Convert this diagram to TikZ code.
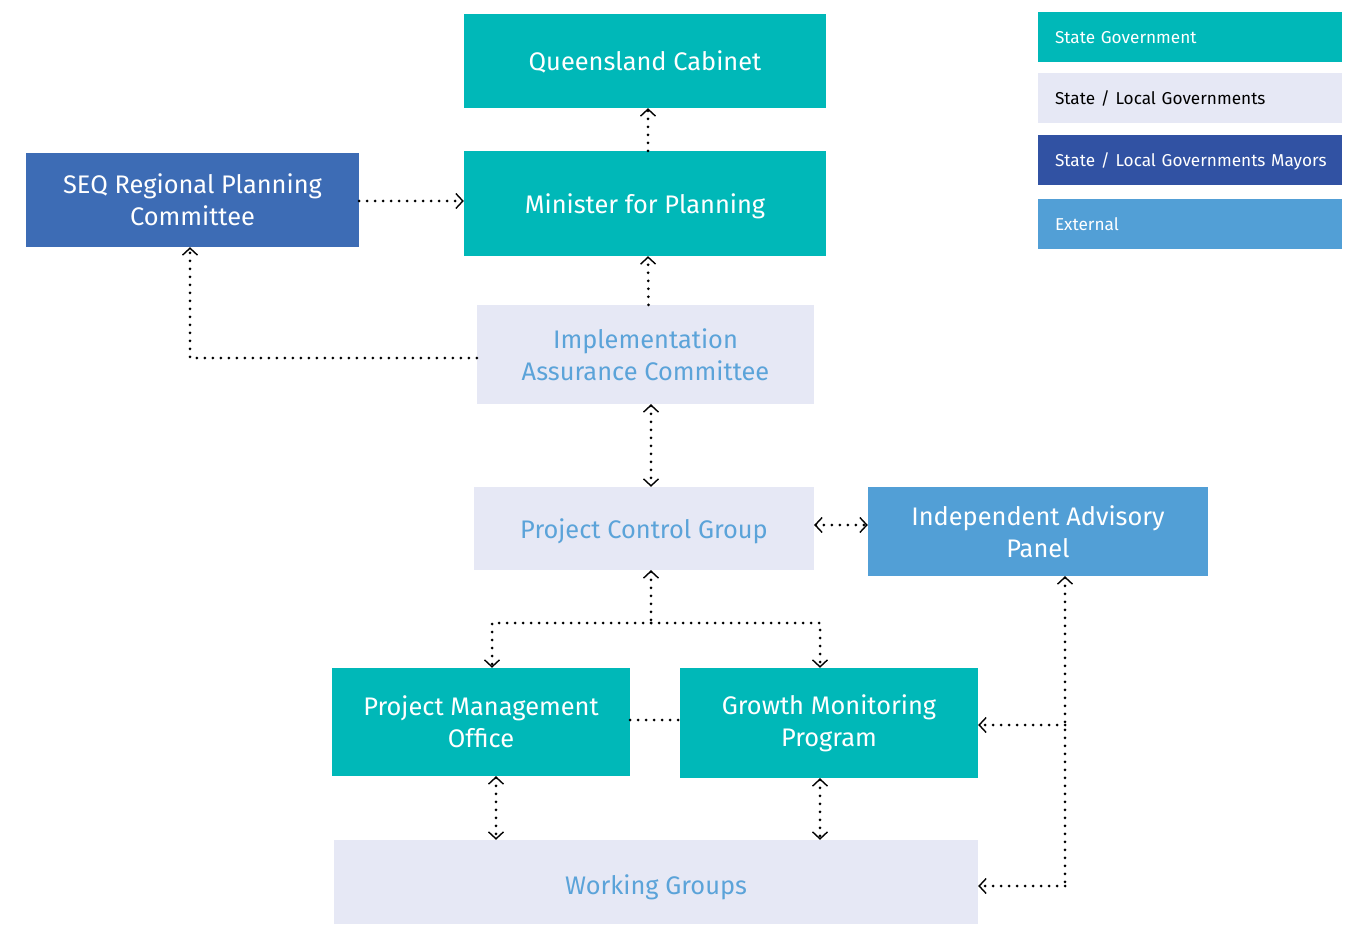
\documentclass[tikz,border=0pt]{standalone}
\usepackage{fontspec}
\setmainfont{Fira Sans}
\usetikzlibrary{arrows.meta}
\definecolor{cteal}{HTML}{00B8B8}
\definecolor{clav}{HTML}{E6E8F5}
\definecolor{cltxt}{HTML}{5BA3D9}
\definecolor{cseq}{HTML}{3D6CB5}
\definecolor{cmayor}{HTML}{3152A3}
\definecolor{cext}{HTML}{529FD6}
\tikzset{
  box/.style={rectangle, inner sep=0pt, align=center, font=\fontsize{25.4}{32}\selectfont},
  one/.style={text height=19.5pt, text depth=0pt},
  gov/.style={box, fill=cteal, text=white},
  loc/.style={box, fill=clav, text=cltxt},
  seqb/.style={box, fill=cseq, text=white},
  ext/.style={box, fill=cext, text=white},
  leg/.style={rectangle, inner ysep=0pt, inner xsep=17pt, minimum height=50pt, text width=270pt, text height=12.5pt, text depth=0pt, align=left, font=\fontsize{17.2}{20}\selectfont},
  con/.style={line width=3pt, dash pattern=on 0pt off 8pt, line cap=round},
  tip/.tip={Straight Barb[length=7pt,width=15pt,line width=1.4pt]}
}
\begin{document}
\begin{tikzpicture}[x=1pt,y=-1pt]
\useasboundingbox (0,0) rectangle (1351,925);
% nodes
\node[gov, one, minimum width=362pt, minimum height=94pt] (qc) at (645,61) {Queensland Cabinet};
\node[gov, one, minimum width=362pt, minimum height=105pt] (mfp) at (645,203.5) {Minister for Planning};
\node[seqb, minimum width=333pt, minimum height=94pt] (seq) at (192.5,200) {SEQ Regional Planning\\Committee};
\node[loc, minimum width=337pt, minimum height=99pt] (iac) at (645.5,354.5) {Implementation\\Assurance Committee};
\node[loc, one, minimum width=340pt, minimum height=83pt] (pcg) at (644,528.5) {Project Control Group};
\node[ext, minimum width=340pt, minimum height=89pt] (iap) at (1038,531.5) {Independent Advisory\\Panel};
\node[gov, minimum width=298pt, minimum height=108pt] (pmo) at (481,722) {Project Management\\Office};
\node[gov, minimum width=298pt, minimum height=110pt] (gmp) at (829,723) {Growth Monitoring\\Program};
\node[loc, text height=24pt, text depth=0pt, minimum width=644pt, minimum height=84pt] (wg) at (656,882) {Working Groups};
% legend
\node[leg, fill=cteal, text=white] (l1) at (1190,37) {State Government};
\node[leg, fill=clav, text=black] (l2) at (1190,98.5) {State / Local Governments};
\node[leg, fill=cmayor, text=white] (l3) at (1190,160) {\mbox{State / Local Governments Mayors}};
\node[leg, fill=cext, text=white] (l4) at (1190,224) {External};
% connectors
\coordinate (j1) at (651,623);
\coordinate (j2) at (1065,886);
\coordinate (j3) at (1065,725);
\draw[con,-{tip}] ([xshift=3pt]mfp.north) -- ([xshift=3pt]qc.south);
\draw[con,-{tip}] ([yshift=-1pt]seq.east) -- ([yshift=-1pt]seq.east -| mfp.west);
\draw[con,-{tip}] ([xshift=3pt]iac.north) -- ([xshift=3pt]mfp.south);
\draw[con,-{tip}] ([yshift=-3.5pt]iac.west) -| ([xshift=-2.5pt]seq.south);
\draw[con,{tip}-{tip}] ([xshift=5.5pt]iac.south) -- ([xshift=5.5pt]iac.south |- pcg.north);
\draw[con,{tip}-{tip}] ([yshift=3.5pt]pcg.east) -- ([yshift=3.5pt]pcg.east -| iap.west);
\draw[con,{tip}-] ([xshift=7pt]pcg.south) -- (j1);
\draw[con,-{tip}] (j1) -| ([xshift=11pt]pmo.north);
\draw[con,-{tip}] (j1) -| ([xshift=-9pt]gmp.north);
\draw[con] ([yshift=2pt]pmo.east) -- ([yshift=2pt]pmo.east -| gmp.west);
\draw[con,{tip}-{tip}] ([xshift=15pt]pmo.south) -- ([xshift=15pt]pmo.south |- wg.north);
\draw[con,{tip}-{tip}] ([xshift=-9pt]gmp.south) -- ([xshift=-9pt]gmp.south |- wg.north);
\draw[con,{tip}-] ([xshift=27pt]iap.south) -- (j2);
\draw[con,-{tip}] (j2) -- (j2 -| wg.east);
\draw[con,-{tip}] (j3) -- (j3 -| gmp.east);
\end{tikzpicture}
\end{document}
